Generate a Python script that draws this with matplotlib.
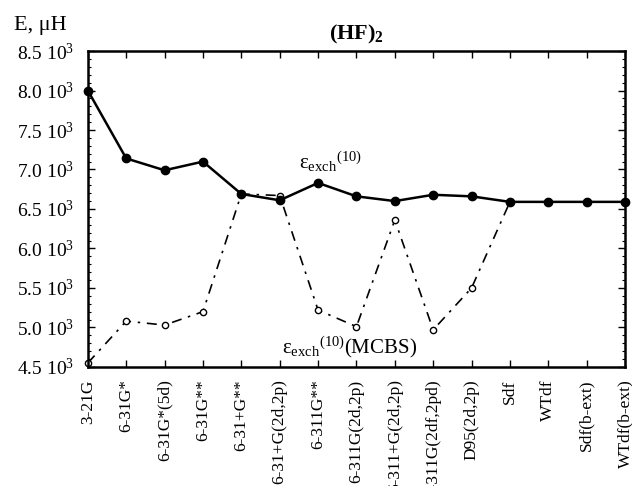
import matplotlib
matplotlib.use("Agg")
import matplotlib.pyplot as plt
from matplotlib.ticker import MultipleLocator, FixedLocator

plt.rcParams['font.family'] = ['Liberation Serif', 'DejaVu Serif']
plt.rcParams['mathtext.fontset'] = 'custom'
plt.rcParams['mathtext.rm'] = 'Liberation Serif'
plt.rcParams['mathtext.it'] = 'Liberation Serif:italic'
plt.rcParams['mathtext.bf'] = 'Liberation Serif:bold'

# Basis sets
basis = ["3-21G", "6-31G*", "6-31G*(5d)", "6-31G**", "6-31+G**",
         "6-31+G(2d,2p)", "6-311G**", "6-311G(2d,2p)", "6-311+G(2d,2p)",
         "6-311G(2df,2pd)", "D95(2d,2p)", "Sdf", "WTdf", "Sdf(b-ext)",
         "WTdf(b-ext)"]

# Exchange energy, muH
e_exch = [8.00, 7.14, 6.99, 7.10, 6.69, 6.61, 6.83, 6.66, 6.60, 6.68,
          6.66, 6.59, 6.59, 6.59, 6.59]
e_exch_mcbs = [4.55, 5.08, 5.03, 5.20, 6.69, 6.67, 5.22, 5.01, 6.36, 4.97,
               5.50, 6.59, 6.59, 6.59, 6.59]

yticks = [4.5, 5.0, 5.5, 6.0, 6.5, 7.0, 7.5, 8.0, 8.5]
ytick_labels = [rf"{v:.1f} $\mathrm{{10}}^{{3}}$" for v in yticks]

fig = plt.figure(figsize=(6.32, 4.86), dpi=100)
ax = fig.add_axes([0.139, 0.245, 0.850, 0.650])

x = list(range(len(basis)))

ax.plot(x, e_exch_mcbs, color='black', lw=1.2, linestyle=(0, (6, 4, 1.5, 4)),
        marker='o', ms=4.5, mfc='white', mec='black', mew=1.0, clip_on=False,
        zorder=2)
ax.plot(x, e_exch, color='black', lw=1.8, marker='o', ms=6,
        mfc='black', mec='black', clip_on=False, zorder=3)

ax.set_xlim(0, len(basis) - 1)
ax.set_ylim(4.5, 8.5)
ax.set_xticks(x)
ax.set_xticklabels(basis, rotation=90, fontsize=12.5)
ax.yaxis.set_major_locator(FixedLocator(yticks))
ax.set_yticklabels(ytick_labels, fontsize=14)
ax.yaxis.set_minor_locator(MultipleLocator(0.1))

ax.tick_params(axis='both', which='major', direction='in', length=5,
               width=1, top=True, right=True)
ax.tick_params(axis='y', which='minor', direction='in', length=2.5,
               width=0.8, right=True)
ax.tick_params(axis='y', pad=10)
ax.tick_params(axis='x', pad=9)
for s in ax.spines.values():
    s.set_linewidth(1.8)

# Curve labels
ax.text(5.5, 7.1, r'$\mathrm{ε}_{\mathrm{exch}}{}^{(10)}$', fontsize=15,
        ha='left', va='center')
ax.text(5.05, 4.75, r'$\mathrm{ε}_{\mathrm{exch}}{}^{(10)}$(MCBS)', fontsize=15,
        ha='left', va='center')

ax.set_title(r'$\mathbf{(HF)}_{\mathbf{2}}$', fontsize=16, pad=8)
fig.text(0.022, 0.948, 'E, μH', fontsize=16, ha='left', va='center')

fig.savefig('out.png', dpi=100)
